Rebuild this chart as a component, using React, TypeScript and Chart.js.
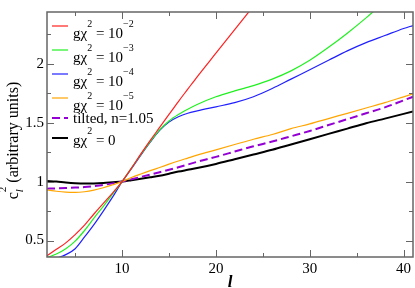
import React, { useEffect, useRef } from 'react';
import { Chart, registerables } from 'chart.js';

Chart.register(...registerables);

// multipole l
const L = [2, 3, 4, 5, 6, 7, 8, 9, 10, 11, 12, 13, 14, 15, 16, 17, 18, 20, 22, 24, 26, 28, 30, 32, 34, 36, 38, 40, 41];

const RED = [0.37, 0.425, 0.48, 0.55, 0.63, 0.725, 0.815, 0.905, 1.0, 1.115, 1.235, 1.35, 1.46, 1.57, 1.68, 1.785, 1.89, 2.09, 2.29, 2.49, null, null, null, null, null, null, null, null, null];
const GREEN = [0.355, 0.385, 0.43, 0.495, 0.585, 0.69, 0.79, 0.895, 1.0, 1.115, 1.23, 1.34, 1.44, 1.515, 1.57, 1.615, 1.655, 1.72, 1.77, 1.815, 1.87, 1.94, 2.03, 2.14, 2.26, 2.39, 2.53, null, null];
const BLUE = [0.33, 0.35, 0.38, 0.43, 0.53, 0.635, 0.75, 0.87, 1.0, 1.11, 1.225, 1.335, 1.435, 1.505, 1.55, 1.58, 1.6, 1.635, 1.67, 1.72, 1.79, 1.87, 1.95, 2.03, 2.11, 2.18, 2.24, 2.3, 2.325];
const ORANGE = [0.93, 0.918, 0.91, 0.908, 0.914, 0.928, 0.948, 0.973, 1.0, 1.035, 1.065, 1.093, 1.12, 1.148, 1.175, 1.2, 1.225, 1.27, 1.315, 1.36, 1.4, 1.45, 1.49, 1.535, 1.58, 1.625, 1.67, 1.72, 1.745];
const PURPLE = [0.94, 0.942, 0.945, 0.949, 0.954, 0.962, 0.972, 0.985, 1.0, 1.02, 1.04, 1.06, 1.08, 1.1, 1.122, 1.145, 1.168, 1.21, 1.255, 1.3, 1.34, 1.385, 1.43, 1.48, 1.53, 1.58, 1.63, 1.69, 1.72];
const BLACK = [1.006, 1.0, 0.992, 0.986, 0.983, 0.984, 0.988, 0.994, 1.0, 1.012, 1.025, 1.037, 1.05, 1.067, 1.085, 1.1, 1.115, 1.15, 1.19, 1.23, 1.27, 1.315, 1.36, 1.405, 1.45, 1.495, 1.535, 1.575, 1.595];

const SERIES_LABELS = [
  'gχ^{2} = 10^{−2}',
  'gχ^{2} = 10^{−3}',
  'gχ^{2} = 10^{−4}',
  'gχ^{2} = 10^{−5}',
  'tilted, n=1.05',
  'gχ^{2} = 0',
];

const X_TICKS = [10, 20, 30, 40];
const X_MINOR = [5, 15, 25, 35];
const Y_TICKS = [0.5, 1, 1.5, 2];
const Y_MINOR = [0.75, 1.25, 1.75, 2.25];

const X_TITLE = 'l';
const Y_TITLE = 'c_{l}^{2} (arbitrary units)';

const FONT = "'Liberation Serif', serif";

type Part = { t: string; k: string };

function parseRich(s: string): Part[] {
  const out: Part[] = [];
  const re = /([\^_])\{([^}]*)\}/g;
  let last = 0;
  let m: RegExpExecArray | null;
  while ((m = re.exec(s))) {
    if (m.index > last) out.push({ t: s.slice(last, m.index), k: '' });
    out.push({ t: m[2], k: m[1] });
    last = re.lastIndex;
  }
  if (last < s.length) out.push({ t: s.slice(last), k: '' });
  return out;
}

function drawRich(ctx: CanvasRenderingContext2D, s: string, x: number, y: number, size: number, measureOnly = false, subItalic = false): number {
  const parts = parseRich(s);
  let cx = x;
  let prevKind = '';
  let scriptStart = 0;
  let scriptEnd = 0;
  const ss = Math.round(size * 0.68);
  for (const p of parts) {
    if (p.k === '') {
      if (prevKind) cx = Math.max(cx, scriptEnd);
      ctx.font = `${size}px ${FONT}`;
      if (!measureOnly) ctx.fillText(p.t, cx, y);
      cx += ctx.measureText(p.t).width;
      prevKind = '';
    } else {
      if (prevKind && prevKind !== p.k) {
        cx = scriptStart;
      } else {
        scriptStart = cx;
        scriptEnd = cx;
      }
      const italic = p.k === '_' && subItalic ? 'italic ' : '';
      ctx.font = `${italic}${ss}px ${FONT}`;
      const dy = p.k === '^' ? -size * 0.72 : size * 0.3;
      if (!measureOnly) ctx.fillText(p.t, cx, y + dy);
      const w = ctx.measureText(p.t).width;
      scriptEnd = Math.max(scriptEnd, cx + w);
      cx += w;
      prevKind = p.k;
    }
  }
  if (prevKind) cx = Math.max(cx, scriptEnd);
  return cx - x;
}

const decorPlugin = {
  id: 'decor',
  afterDraw(chart: any) {
    const { ctx, chartArea } = chart;
    const { left, right, top, bottom } = chartArea;
    const xs = chart.scales.x;
    const ys = chart.scales.y;
    ctx.save();
    // frame
    ctx.strokeStyle = '#666';
    ctx.lineWidth = 1.5;
    ctx.strokeRect(left, top, right - left, bottom - top);
    // inner ticks
    ctx.lineWidth = 1;
    const tick = (vals: number[], len: number) => {
      for (const v of vals) {
        const px = Math.round(xs.getPixelForValue(v)) + 0.5;
        ctx.beginPath();
        ctx.moveTo(px, bottom);
        ctx.lineTo(px, bottom - len);
        ctx.moveTo(px, top);
        ctx.lineTo(px, top + len);
        ctx.stroke();
      }
    };
    const ytick = (vals: number[], len: number) => {
      for (const v of vals) {
        const py = Math.round(ys.getPixelForValue(v)) + 0.5;
        ctx.beginPath();
        ctx.moveTo(left, py);
        ctx.lineTo(left + len, py);
        ctx.moveTo(right, py);
        ctx.lineTo(right - len, py);
        ctx.stroke();
      }
    };
    tick(X_TICKS, 7);
    tick(X_MINOR, 4);
    ytick(Y_TICKS, 7);
    ytick(Y_MINOR, 4);

    // legend
    const lineY = [15, 39, 63, 87, 107, 127];
    const textDy = [11.5, 11.5, 11.5, 11.5, 4.5, 6.5];
    ctx.textBaseline = 'alphabetic';
    ctx.textAlign = 'left';
    chart.data.datasets.forEach((ds: any, i: number) => {
      const y = top + lineY[i] - 1;
      ctx.strokeStyle = ds.borderColor;
      ctx.lineWidth = ds.borderWidth;
      ctx.setLineDash(ds.borderDash || []);
      ctx.beginPath();
      ctx.moveTo(left + 5, y);
      ctx.lineTo(left + 21, y);
      ctx.stroke();
      ctx.setLineDash([]);
      ctx.fillStyle = '#000';
      drawRich(ctx, ds.label, left + 26, y + textDy[i], 15);
    });

    // y title
    ctx.fillStyle = '#000';
    ctx.save();
    ctx.translate(18, (top + bottom) / 2 + 6);
    ctx.rotate(-Math.PI / 2);
    const w = drawRich(ctx, Y_TITLE, 0, 0, 16, true, true);
    drawRich(ctx, Y_TITLE, -w / 2, 0, 16, false, true);
    ctx.restore();

    // x title
    ctx.font = `italic bold 17px ${FONT}`;
    ctx.textAlign = 'center';
    ctx.fillText(X_TITLE, (left + right) / 2, 286.5);
    ctx.restore();
  },
};

function series(vals: (number | null)[]) {
  return L.map((x, i) => ({ x, y: vals[i] }));
}

export default function App() {
  const ref = useRef<HTMLCanvasElement>(null);
  useEffect(() => {
    document.body.style.margin = '0';
    const canvas = ref.current!;
    const mk = (i: number, vals: (number | null)[], color: string, width: number, dash?: number[]) => ({
      label: SERIES_LABELS[i],
      data: series(vals),
      borderColor: color,
      borderWidth: width,
      borderDash: dash || [],
      pointRadius: 0,
      fill: false,
      cubicInterpolationMode: 'monotone' as const,
      spanGaps: false,
    });
    const chart = new Chart(canvas, {
      type: 'line',
      data: {
        datasets: [
          mk(0, RED, '#ff2020', 1.2),
          mk(1, GREEN, '#20f020', 1.2),
          mk(2, BLUE, '#2020ff', 1.2),
          mk(3, ORANGE, '#ffa500', 1.2),
          mk(4, PURPLE, '#9400d3', 2, [8, 4]),
          mk(5, BLACK, '#000000', 2),
        ],
      },
      options: {
        animation: false,
        responsive: false,
        devicePixelRatio: 1,
        layout: { padding: { top: 1, right: 2, left: 0, bottom: 0 } },
        plugins: { legend: { display: false }, tooltip: { enabled: false } },
        scales: {
          x: {
            type: 'linear',
            min: 2,
            max: 41,
            grid: { display: false, drawTicks: false },
            border: { display: false },
            afterBuildTicks: (s: any) => {
              s.ticks = X_TICKS.map((v) => ({ value: v }));
            },
            afterFit: (s: any) => {
              s.height = 31;
            },
            ticks: {
              font: { family: FONT, size: 15 },
              color: '#000',
              padding: 3,
              maxRotation: 0,
              autoSkip: false,
              callback: (v: any) => String(v),
            },
          },
          y: {
            type: 'linear',
            min: 0.36,
            max: 2.44,
            grid: { display: false, drawTicks: false },
            border: { display: false },
            afterBuildTicks: (s: any) => {
              s.ticks = Y_TICKS.map((v) => ({ value: v }));
            },
            afterFit: (s: any) => {
              s.width = 47;
            },
            ticks: {
              font: { family: FONT, size: 15 },
              color: '#000',
              padding: 3,
              autoSkip: false,
              callback: (v: any) => String(v),
            },
          },
        },
      },
      plugins: [decorPlugin],
    });
    return () => chart.destroy();
  }, []);
  return (
    <div style={{ width: 415, height: 288 }}>
      <canvas ref={ref} width={415} height={288} style={{ display: 'block' }} />
    </div>
  );
}
